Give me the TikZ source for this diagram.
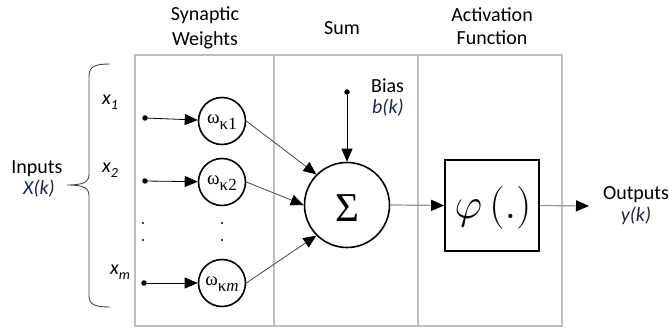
\RequirePackage{fix-cm}
\documentclass[tikz,border=0pt]{standalone}
\usepackage{fontspec}
\setmainfont{Carlito}
\newfontfamily\grk{Liberation Serif}
\usetikzlibrary{arrows.meta,calc}
\definecolor{panelgray}{RGB}{191,191,191}
\definecolor{navy}{RGB}{25,40,70}
\definecolor{linegray}{RGB}{70,70,70}
\definecolor{flowgray}{RGB}{150,150,150}
\definecolor{bracecol}{RGB}{70,70,70}
\newcommand{\wlab}[1]{{\grk\fontsize{19}{19}\selectfont ω\raisebox{-6pt}{\fontsize{17}{17}\selectfont κ#1}}}
\newcommand{\xlab}[1]{{\itshape x\raisebox{-5pt}{\fontsize{14}{14}\selectfont #1}}}
\begin{document}
\begin{tikzpicture}[x=1pt,y=-1pt,
  txt/.style={font=\fontsize{20}{24}\selectfont, inner sep=0pt},
  wcirc/.style={circle, draw=black, line width=1.6pt, minimum size=47pt, inner sep=0pt},
  sumcirc/.style={circle, draw=black, line width=1.6pt, minimum size=85pt, inner sep=0pt},
  phibox/.style={rectangle, draw=black, line width=1.8pt, minimum width=94pt, minimum height=91pt, inner sep=0pt},
  dotn/.style={circle, fill=black, minimum size=5.5pt, inner sep=0pt},
  tinydot/.style={circle, fill=black, minimum size=2.2pt, inner sep=0pt},
  arr/.style={-{Triangle[length=13pt,width=11pt,color=black]}, line width=0.8pt},
  panel/.style={draw=panelgray, line width=1.6pt},
]
\useasboundingbox (0,0) rectangle (669,328);

% panels
\draw[panel] (135,55) rectangle (562,326);
\draw[panel] (274,55) -- (274,326);
\draw[panel] (418,55) -- (418,326);

% headers
\node[txt, anchor=base] (h1a) at (205,21) {Synaptic};
\node[txt, anchor=base] (h1b) at (205,46) {Weights};
\node[txt, anchor=base] (h2) at (342,35) {Sum};
\node[txt, anchor=base] (h3a) at (492,22) {Activation};
\node[txt, anchor=base] (h3b) at (492,45) {Function};

% inputs label and brace
\node[txt, anchor=base] (inp) at (37,174) {Inputs};
\node[txt, anchor=base, text=navy] (inpx) at (39,195) {\itshape X(k)};
\draw[bracecol, line width=0.9pt] (110,64) .. controls (96,64) and (89,66) .. (89,76) -- (89,174)
  .. controls (89,182) and (84,185) .. (67,185)
  .. controls (84,185) and (89,188) .. (89,196) -- (89,296)
  .. controls (89,305) and (96,307) .. (110,307);

\node[txt, anchor=base west] (lx1) at (102,105) {\xlab{1}};
\node[txt, anchor=base west] (lx2) at (102,173) {\xlab{2}};
\node[txt, anchor=base west] (lxm) at (110,275) {\xlab{\itshape m}};

% weights
\node[wcirc] (w1) at (222,121) {};
\node[wcirc] (w2) at (222,182) {};
\node[wcirc] (wm) at (222,283) {};
\node[anchor=base, inner sep=0pt] (tw1) at ($(w1)+(0,3)$) {\wlab{1}};
\node[anchor=base, inner sep=0pt] (tw2) at ($(w2)+(0,3)$) {\wlab{2}};
\node[anchor=base, inner sep=0pt] (twm) at ($(wm)+(0,3)$) {\wlab{\textit{m}}};

\node[dotn] (d1) at (145,118) {};
\node[dotn] (d2) at (145,181) {};
\node[dotn] (dm) at (144,283) {};
\draw[arr, black] (d1) -- (w1);
\draw[arr, black] (d2) -- (w2);
\draw[arr, black] (dm) -- (wm);

\node[tinydot] (v1) at (143,223) {};
\node[tinydot] (v2) at (143,240) {};
\node[tinydot] (v3) at (222,223) {};
\node[tinydot] (v4) at (222,240) {};

% sum
\node[sumcirc] (sum) at (347,205) {};
\node[anchor=base, inner sep=0pt] (sig) at (347,222) {\grk\fontsize{41}{41}\selectfont Σ};
\draw[arr, linegray] (w1.east) -- (sum.135);
\draw[arr, linegray] (w2.east) -- (sum.west);
\draw[arr, linegray] (wm.east) -- (sum.225);

% bias
\node[dotn] (bd) at (347,92) {};
\draw[arr, black] (bd) -- (sum.north);
\node[txt, anchor=base west] (bias) at (371,93) {Bias};
\node[txt, anchor=base west, text=navy] (bk) at (372,114) {\itshape b(k)};

% activation
\node[phibox] (phi) at (492,205.5) {};
\node[anchor=base, inner sep=0pt] (phit) at (493,219) {\fontsize{43}{43}\selectfont $\varphi\,(.)$};
\draw[arr, flowgray, line width=1.2pt] (sum.east) -- (phi.west);

% output
\coordinate (out) at (589,206);
\draw[arr, flowgray, line width=1.2pt] (phi.east) -- (out);
\node[txt, anchor=base] (outl) at (636,200) {Outputs};
\node[txt, anchor=base, text=navy] (yk) at (636,222) {\itshape y(k)};
\end{tikzpicture}
\end{document}
